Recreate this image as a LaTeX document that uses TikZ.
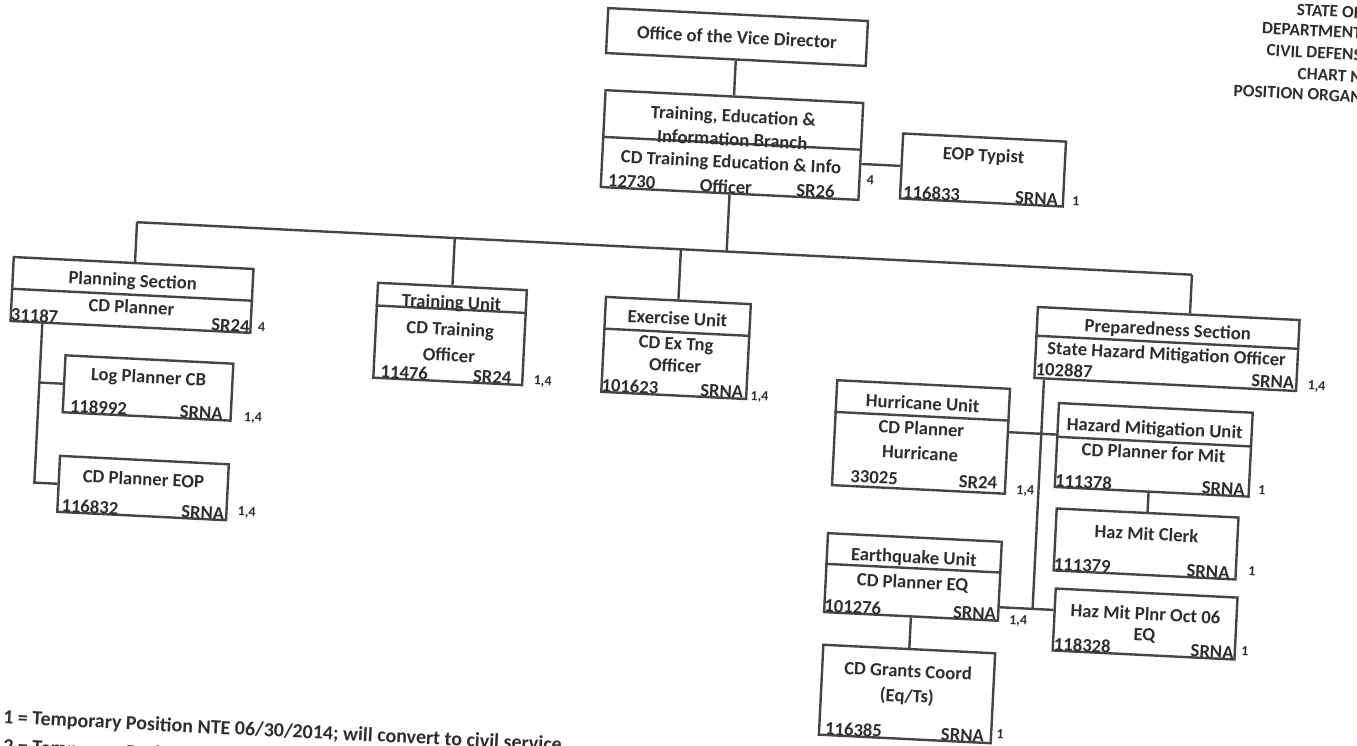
\documentclass[tikz,border=0pt]{standalone}
\usepackage{fontspec}
\setmainfont{Carlito}
\usetikzlibrary{calc}
\definecolor{lc}{HTML}{454545}
\definecolor{tc}{HTML}{2E2E2E}
\begin{document}
\begin{tikzpicture}[x=0.75pt,y=-0.75pt,
  box/.style 2 args={draw=lc, line width=1.8pt, rectangle, inner sep=0pt, minimum width=#1*0.75pt, minimum height=#2*0.75pt},
  ln/.style={draw=lc, line width=1.8pt},
  txt/.style={text=tc, font=\bfseries\fontsize{14}{16}\selectfont, inner sep=0pt},
  bl/.style={txt, anchor=base west},
  br/.style={txt, anchor=base east},
  bc/.style={txt, anchor=base},
  lbl/.style={text=tc, font=\bfseries\fontsize{10.5}{12}\selectfont, inner sep=0pt, anchor=base west},
  hdr/.style={text=tc, font=\bfseries\fontsize{13}{15}\selectfont, inner sep=0pt, anchor=east},
  foot/.style={text=tc, font=\bfseries\fontsize{15}{17}\selectfont, inner sep=0pt, anchor=west}]
\fill[white] (0,0) rectangle (1357,746);
\useasboundingbox (0,0) rectangle (1357,746);
\begin{scope}[rotate around={-2.85:(678,373)}, every node/.append style={transform shape}]
% header
\node[hdr] (h1) at (1343.3,-20.6) {STATE OF};
\node[hdr] (h2) at (1344.3,-0.6) {DEPARTMENT};
\node[hdr] (h3) at (1345.4,21.4) {CIVIL DEFENS};
\node[hdr] (h4) at (1346.5,43.4) {CHART N};
\node[hdr] (h5) at (1347.5,63.4) {POSITION ORGAN};
% boxes
\node[box={260}{45}] (office) at (720.2,34.5) {};
\node[box={258}{97}] (branch) at (720.6,142.6) {};
\node[box={163}{65}] (eop) at (972.5,155.1) {};
\node[box={240}{64}] (planning) at (128.8,322.2) {};
\node[box={168}{57}] (log) at (149.4,414.3) {};
\node[box={169}{56}] (cdeop) at (149.4,514.5) {};
\node[box={149}{95}] (trainu) at (448.4,345.3) {};
\node[box={145}{95}] (exu) at (674.8,348.1) {};
\node[box={262}{71}] (prep) at (1165.2,324.7) {};
\node[box={173}{105}] (hurr) at (923.9,424.8) {};
\node[box={194}{84}] (hazm) at (1157,426.1) {};
\node[box={182}{62}] (clerk) at (1154,520.5) {};
\node[box={182}{62}] (plnr) at (1157,600.5) {};
\node[box={174}{79}] (eq) at (922.8,565) {};
\node[box={172}{90}] (grants) at (922.7,682.2) {};
% dividers
\draw[ln] ($(branch.north west)+(0,48)$) -- ($(branch.north east)+(0,48)$);
\draw[ln] ($(planning.north west)+(0,33)$) -- ($(planning.north east)+(0,33)$);
\draw[ln] ($(trainu.north west)+(0,24)$) -- ($(trainu.north east)+(0,24)$);
\draw[ln] ($(exu.north west)+(0,33)$) -- ($(exu.north east)+(0,33)$);
\draw[ln] ($(prep.north west)+(0,30)$) -- ($(prep.north east)+(0,30)$);
\draw[ln] ($(hurr.north west)+(0,33)$) -- ($(hurr.north east)+(0,33)$);
\draw[ln] ($(hazm.north west)+(0,35)$) -- ($(hazm.north east)+(0,35)$);
\draw[ln] ($(eq.north west)+(0,32)$) -- ($(eq.north east)+(0,32)$);
% office
\node[txt] (office-t) at (office) {Office of the Vice Director};
% branch
\node[txt] (branch-t1) at ($(branch.north)+(0,22)$) {Training, Education \&};
\node[txt] (branch-t2) at ($(branch.north)+(0,44)$) {Information Branch};
\node[txt] (branch-t3) at ($(branch.north)+(0,68)$) {CD Training Education \& Info};
\node[bl] (branch-n) at ($(branch.south west)+(8,-2)$) {12730};
\node[bc] (branch-o) at ($(branch.south)+(-4,-1.5)$) {Officer};
\node[br] (branch-g) at ($(branch.south east)+(-25,-1.5)$) {SR26};
\node[lbl] (branch-l) at ($(branch.south east)+(6,-17)$) {4};
% eop
\node[txt] (eop-t) at ($(eop.north)+(0,20)$) {EOP Typist};
\node[bl] (eop-n) at ($(eop.south west)+(4,-1.5)$) {116833};
\node[br] (eop-g) at ($(eop.south east)+(-6,-1.5)$) {SRNA};
\node[lbl] (eop-l) at ($(eop.south east)+(8,-3)$) {1};
% planning
\node[txt] (pl-t1) at ($(planning.north)+(0,20)$) {Planning Section};
\node[txt] (pl-t2) at ($(planning.north)+(0,45)$) {CD Planner};
\node[bl] (pl-n) at ($(planning.south west)+(1,-1.5)$) {31187};
\node[br] (pl-g) at ($(planning.south east)+(-2,-1.5)$) {SR24};
\node[lbl] (pl-l) at ($(planning.south east)+(6,-3)$) {4};
% log
\node[txt] (log-t) at ($(log.north)+(0,20)$) {Log Planner CB};
\node[bl] (log-n) at ($(log.south west)+(8,-1.5)$) {118992};
\node[br] (log-g) at ($(log.south east)+(-9,-1.5)$) {SRNA};
\node[lbl] (log-l) at ($(log.south east)+(12,-1)$) {1,4};
% cdeop
\node[txt] (cdeop-t) at ($(cdeop.north)+(0,20)$) {CD Planner EOP};
\node[bl] (cdeop-n) at ($(cdeop.south west)+(5,-1.5)$) {116832};
\node[br] (cdeop-g) at ($(cdeop.south east)+(-3,-1.5)$) {SRNA};
\node[lbl] (cdeop-l) at ($(cdeop.south east)+(10,-6)$) {1,4};
% training unit
\node[txt] (tu-t1) at ($(trainu.north)+(0,18.6)$) {Training Unit};
\node[txt] (tu-t2) at ($(trainu.north)+(0,45.5)$) {CD Training};
\node[txt] (tu-t3) at ($(trainu.north)+(0,70)$) {Officer};
\node[bl] (tu-n) at ($(trainu.south west)+(8,-1.5)$) {11476};
\node[br] (tu-g) at ($(trainu.south east)+(-12,-1.5)$) {SR24};
\node[lbl] (tu-l) at ($(trainu.south east)+(10,-2)$) {1,4};
% exercise unit
\node[txt] (ex-t1) at ($(exu.north)+(0,19)$) {Exercise Unit};
\node[txt] (ex-t2) at ($(exu.north)+(0,46)$) {CD Ex Tng};
\node[txt] (ex-t3) at ($(exu.north)+(0,66)$) {Officer};
\node[bl] (ex-n) at ($(exu.south west)+(1,-1.5)$) {101623};
\node[br] (ex-g) at ($(exu.south east)+(-4,-1.5)$) {SRNA};
\node[lbl] (ex-l) at ($(exu.south east)+(3,0)$) {1,4};
% preparedness
\node[txt] (pr-t1) at ($(prep.north)+(0,18.5)$) {Preparedness Section};
\node[txt] (pr-t2) at ($(prep.north)+(0,43)$) {State Hazard Mitigation Officer};
\node[bl] (pr-n) at ($(prep.south west)+(2,-4)$) {102887};
\node[br] (pr-g) at ($(prep.south east)+(-3,-3)$) {SRNA};
\node[lbl] (pr-l) at ($(prep.south east)+(10,-3)$) {1,4};
% hurricane
\node[txt] (hu-t1) at ($(hurr.north)+(0,20)$) {Hurricane Unit};
\node[txt] (hu-t2) at ($(hurr.north)+(0,45)$) {CD Planner};
\node[txt] (hu-t3) at ($(hurr.north)+(0,70)$) {Hurricane};
\node[bl] (hu-n) at ($(hurr.south west)+(19,-5)$) {33025};
\node[br] (hu-g) at ($(hurr.south east)+(-9,-5)$) {SR24};
\node[lbl] (hu-l) at ($(hurr.south east)+(10,-1)$) {1,4};
% hazard mitigation
\node[txt] (hz-t1) at ($(hazm.north)+(0,23)$) {Hazard Mitigation Unit};
\node[txt] (hz-t2) at ($(hazm.north)+(0,46)$) {CD Planner for Mit};
\node[bl] (hz-n) at ($(hazm.south west)+(1,-1.5)$) {111378};
\node[br] (hz-g) at ($(hazm.south east)+(-5,-1.5)$) {SRNA};
\node[lbl] (hz-l) at ($(hazm.south east)+(8,-4)$) {1};
% clerk
\node[txt] (cl-t) at ($(clerk.north)+(0,22)$) {Haz Mit Clerk};
\node[bl] (cl-n) at ($(clerk.south west)+(1,-1.5)$) {111379};
\node[br] (cl-g) at ($(clerk.south east)+(-7,-1.5)$) {SRNA};
\node[lbl] (cl-l) at ($(clerk.south east)+(11,-6)$) {1};
% planner oct 06
\node[txt] (pn-t1) at ($(plnr.north)+(0,22)$) {Haz Mit Plnr Oct 06};
\node[txt] (pn-t2) at ($(plnr.north)+(0,44)$) {EQ};
\node[bl] (pn-n) at ($(plnr.south west)+(2,-1.5)$) {118328};
\node[br] (pn-g) at ($(plnr.south east)+(-2,-1.5)$) {SRNA};
\node[lbl] (pn-l) at ($(plnr.south east)+(5,-6)$) {1};
% earthquake
\node[txt] (eq-t1) at ($(eq.north)+(0,22)$) {Earthquake Unit};
\node[txt] (eq-t2) at ($(eq.north)+(0,47)$) {CD Planner EQ};
\node[bl] (eq-n) at ($(eq.south west)+(1,-1.5)$) {101276};
\node[br] (eq-g) at ($(eq.south east)+(-3,-1.5)$) {SRNA};
\node[lbl] (eq-l) at ($(eq.south east)+(10,2)$) {1,4};
% grants
\node[txt] (gr-t1) at ($(grants.north)+(0,23)$) {CD Grants Coord};
\node[txt] (gr-t2) at ($(grants.north)+(0,49)$) {(Eq/Ts)};
\node[bl] (gr-n) at ($(grants.south west)+(7,-1.5)$) {116385};
\node[br] (gr-g) at ($(grants.south east)+(-8,-1.5)$) {SRNA};
\node[lbl] (gr-l) at ($(grants.south east)+(4,-6)$) {1};
% connectors
\coordinate (busL) at (130.2,249.3);
\coordinate (busR) at (1186.5,249.3);
\draw[ln] (busL) -- (busR);
\draw[ln] (office.south) -- (office.south |- branch.north);
\draw[ln] (branch.south) -- (branch.south |- busL);
\draw[ln] (busL) -- (busL |- planning.north);
\draw[ln] (trainu.north) -- (trainu.north |- busL);
\draw[ln] (exu.north) -- (exu.north |- busL);
\draw[ln] (busR) -- (busR |- prep.north);
\draw[ln] (eop.west) -- (eop.west -| branch.east);
\coordinate (pvt) at ($(planning.south west)+(33,0)$);
\draw[ln] (pvt) |- (cdeop.west);
\draw[ln] (pvt |- log.west) -- (log.west);
\coordinate (pv2) at ($(prep.south west)+(11,0)$);
\coordinate (eqj) at (1045,591);
\draw[ln] (pv2) -- (pv2 |- eqj);
\draw[ln] (eq.east |- eqj) -- (plnr.west |- eqj);
\coordinate (hzl) at (0,415.7);
\draw[ln] (hurr.east |- hzl) -- (hazm.west |- hzl);
\draw[ln] (hazm.south -| clerk.north) -- (clerk.north);
\draw[ln] (eq.south) -- (eq.south |- grants.north);
% footer
\node[foot] (f1) at (21,751) {1 = Temporary Position NTE 06/30/2014; will convert to civil service};
\node[foot] (f2) at (22.5,780) {2 = Temporary Position};
\end{scope}
\end{tikzpicture}
\end{document}
